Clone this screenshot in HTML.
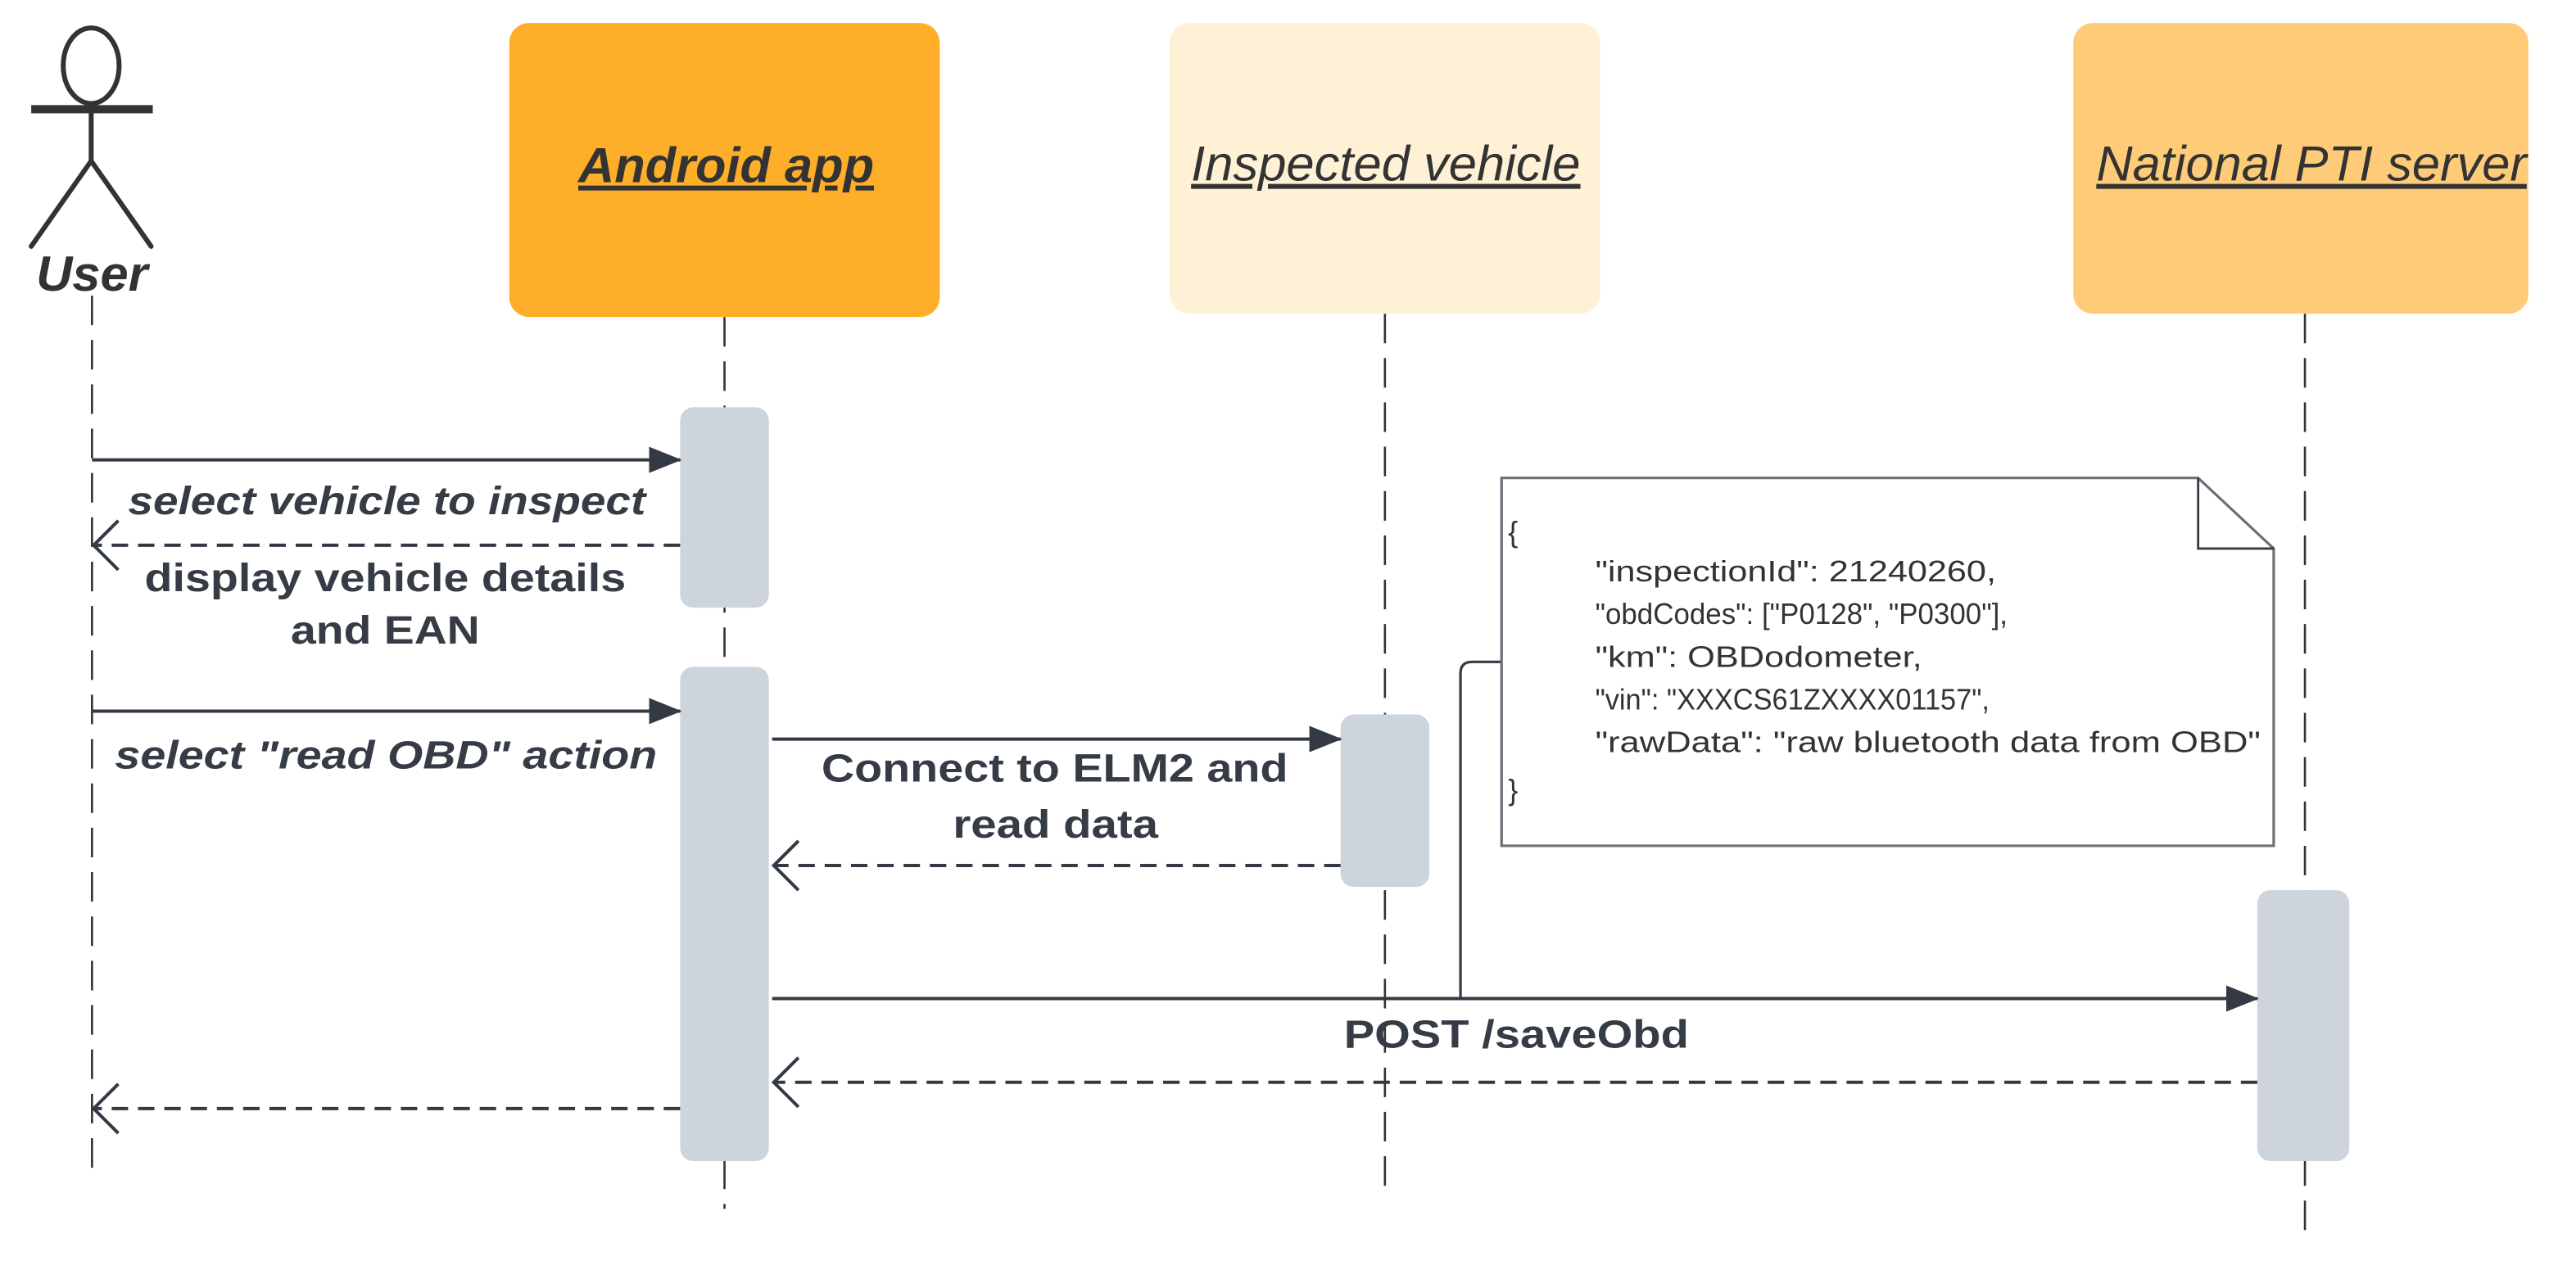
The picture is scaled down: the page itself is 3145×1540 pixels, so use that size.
<!DOCTYPE html>
<html><head><meta charset="utf-8"><style>html,body{margin:0;padding:0;background:#fff}svg{display:block}</style></head>
<body>
<svg width="3145" height="1540" viewBox="0 0 1568 767.8" preserveAspectRatio="none" xmlns="http://www.w3.org/2000/svg" font-family="Liberation Sans, Arial, sans-serif">
<defs>
<marker id="fa" markerWidth="20" markerHeight="16" refX="19" refY="8" orient="auto" markerUnits="userSpaceOnUse"><path d="M0,0 L20,8 L0,16 Z" fill="#333a44"/></marker>
</defs>
<g stroke="#333" stroke-width="1.3" stroke-dasharray="18,9" fill="none">
<line x1="56" y1="180" x2="56" y2="716"/>
<line x1="441" y1="193" x2="441" y2="736"/>
<line x1="843" y1="191" x2="843" y2="726"/>
<line x1="1403" y1="191" x2="1403" y2="758"/>
</g>
<g stroke="#333" stroke-width="3" fill="none" stroke-linecap="round">
<ellipse cx="55.5" cy="40" rx="17" ry="23"/>
<line x1="55.5" y1="63" x2="55.5" y2="98"/>
<line x1="55.5" y1="98" x2="19" y2="150"/>
<line x1="55.5" y1="98" x2="92" y2="150"/>
</g>
<line x1="19" y1="66.5" x2="93" y2="66.5" stroke="#333" stroke-width="5"/>
<text x="22" y="177" font-size="30" font-weight="bold" font-style="italic" fill="#333" textLength="68" lengthAdjust="spacingAndGlyphs">User</text>
<rect x="310" y="14" width="262" height="179" rx="12" fill="#feae29"/>
<text x="352" y="111" font-size="30" font-weight="bold" font-style="italic" fill="#333" text-decoration="underline" textLength="180" lengthAdjust="spacingAndGlyphs">Android app</text>
<rect x="712" y="14" width="262" height="177" rx="12" fill="#fff1d6"/>
<text x="725" y="110" font-size="30" font-style="italic" fill="#333" text-decoration="underline" textLength="237" lengthAdjust="spacingAndGlyphs">Inspected vehicle</text>
<rect x="1262" y="14" width="277" height="177" rx="12" fill="#fecc78"/>
<text x="1276" y="110" font-size="30" font-style="italic" fill="#333" text-decoration="underline" textLength="262" lengthAdjust="spacingAndGlyphs">National PTI server</text>
<g fill="#ced4dc">
<rect x="414" y="248" width="54" height="122" rx="8"/>
<rect x="414" y="406" width="54" height="301" rx="8"/>
<rect x="816" y="435" width="54" height="105" rx="8"/>
<rect x="1374" y="542" width="56" height="165" rx="8"/>
</g>
<g stroke="#333a44" stroke-width="2" fill="none">
<line x1="56" y1="280" x2="414" y2="280" marker-end="url(#fa)"/>
<line x1="56" y1="433" x2="414" y2="433" marker-end="url(#fa)"/>
<line x1="470" y1="450" x2="816" y2="450" marker-end="url(#fa)"/>
<line x1="470" y1="608" x2="1374" y2="608" marker-end="url(#fa)"/>
<g stroke-dasharray="10,6">
<line x1="414" y1="332" x2="58" y2="332"/>
<line x1="816" y1="527" x2="472" y2="527"/>
<line x1="1374" y1="659" x2="472" y2="659"/>
<line x1="414" y1="675" x2="58" y2="675"/>
</g>
<path d="M72,317 L57,332 L72,347"/>
<path d="M486,512 L471,527 L486,542"/>
<path d="M486,644 L471,659 L486,674"/>
<path d="M72,660 L57,675 L72,690"/>
<path d="M889,608 L889,410 Q889,403 896,403 L914,403" stroke-width="1.6"/>
</g>
<g fill="#363c46" font-size="24" font-weight="bold" lengthAdjust="spacingAndGlyphs">
<text x="78" y="313" font-style="italic" textLength="315" lengthAdjust="spacingAndGlyphs">select vehicle to inspect</text>
<text x="88" y="360" textLength="293" lengthAdjust="spacingAndGlyphs">display vehicle details</text>
<text x="177" y="392" textLength="115" lengthAdjust="spacingAndGlyphs">and EAN</text>
<text x="70" y="468" font-style="italic" textLength="330" lengthAdjust="spacingAndGlyphs">select "read OBD" action</text>
<text x="500" y="476" textLength="284" lengthAdjust="spacingAndGlyphs">Connect to ELM2 and</text>
<text x="580" y="510" textLength="125" lengthAdjust="spacingAndGlyphs">read data</text>
<text x="818" y="638" textLength="210" lengthAdjust="spacingAndGlyphs">POST /saveObd</text>
</g>
<path d="M914,291 L1338,291 L1384,334 L1384,515 L914,515 Z" fill="#fff" stroke="#6b7078" stroke-width="1.6"/>
<path d="M1338,291 L1338,334 L1384,334" fill="none" stroke="#333a44" stroke-width="1.4"/>
<g fill="#333" font-size="18">
<text x="918" y="330">{</text>
<text x="971" y="354" textLength="244" lengthAdjust="spacingAndGlyphs">"inspectionId": 21240260,</text>
<text x="971" y="380" textLength="251" lengthAdjust="spacingAndGlyphs">"obdCodes": ["P0128", "P0300"],</text>
<text x="971" y="406" textLength="199" lengthAdjust="spacingAndGlyphs">"km": OBDodometer,</text>
<text x="971" y="432" textLength="240" lengthAdjust="spacingAndGlyphs">"vin": "XXXCS61ZXXXX01157",</text>
<text x="971" y="458" textLength="405" lengthAdjust="spacingAndGlyphs">"rawData": "raw bluetooth data from OBD"</text>
<text x="918" y="487">}</text>
</g>
</svg>
</body></html>
